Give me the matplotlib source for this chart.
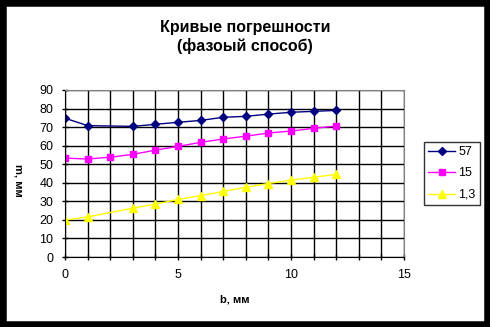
import matplotlib.pyplot as plt
from matplotlib.patches import Rectangle
from matplotlib.ticker import MultipleLocator

plt.rcParams['font.family'] = ['Liberation Sans', 'DejaVu Sans']

# погрешности по трём кривым
b_57 = [0, 1, 3, 4, 5, 6, 7, 8, 9, 10, 11, 12]
m_57 = [74.8, 70.8, 70.4, 71.5, 72.6, 73.6, 75.3, 75.8, 77.0, 78.0, 78.5, 79.0]

b_15 = [0, 1, 2, 3, 4, 5, 6, 7, 8, 9, 10, 11, 12]
m_15 = [53.3, 52.8, 53.8, 55.3, 57.6, 59.6, 61.8, 63.6, 65.1, 66.8, 67.9, 69.3, 70.6]

b_13 = [0, 1, 3, 4, 5, 6, 7, 8, 9, 10, 11, 12]
m_13 = [19.9, 21.6, 26.3, 28.5, 31.0, 33.1, 35.3, 37.6, 39.6, 41.4, 43.0, 44.5]

fig = plt.figure(figsize=(4.9, 3.27), dpi=100)
fig.patches.append(Rectangle((0, 0), 1, 1, transform=fig.transFigure,
                             fill=False, edgecolor='black', linewidth=9))

ax = fig.add_axes([65 / 490, 70 / 327, 339 / 490, 167 / 327])
ax.plot(b_57, m_57, color='#000080', marker='D', markersize=4, linewidth=1, label='57')
ax.plot(b_15, m_15, color='#ff00ff', marker='s', markersize=5, linewidth=1, label='15')
ax.plot(b_13, m_13, color='#ffff00', marker='^', markersize=6, linewidth=1, label='1,3')

ax.set_xlim(0, 15)
ax.set_ylim(0, 90)
ax.xaxis.set_major_locator(MultipleLocator(5))
ax.xaxis.set_minor_locator(MultipleLocator(1))
ax.yaxis.set_major_locator(MultipleLocator(10))
ax.grid(True, which='both', axis='x', color='black', linewidth=1)
ax.grid(True, which='major', axis='y', color='black', linewidth=1)
ax.set_axisbelow(True)
ax.tick_params(axis='both', which='both', direction='inout', length=5, width=1,
               labelsize=9, pad=6)
for side in ['top', 'right']:
    ax.spines[side].set_color('gray')
for side in ['left', 'bottom']:
    ax.spines[side].set_color('black')

ax.set_xlabel('b, мм', fontsize=8, fontweight='bold', labelpad=10)
fig.text(18 / 490, 1 - 180 / 327, 'm, мм', rotation=270, fontsize=8,
         fontweight='bold', ha='center', va='center')

fig.text(0.5, 1 - 37 / 327, 'Кривые погрешности\n(фазоый способ)',
         ha='center', va='center', fontsize=11.5, fontweight='bold', linespacing=1.3)

leg = ax.legend(loc='center left', bbox_to_anchor=((424 - 65) / 339, 0.5), fontsize=9,
                frameon=True, fancybox=False, edgecolor='black', borderpad=0.35,
                handlelength=2.1, handletextpad=0.3, labelspacing=0.75,
                borderaxespad=0)
leg.get_frame().set_linewidth(1)

fig.savefig('out.png', dpi=100)
